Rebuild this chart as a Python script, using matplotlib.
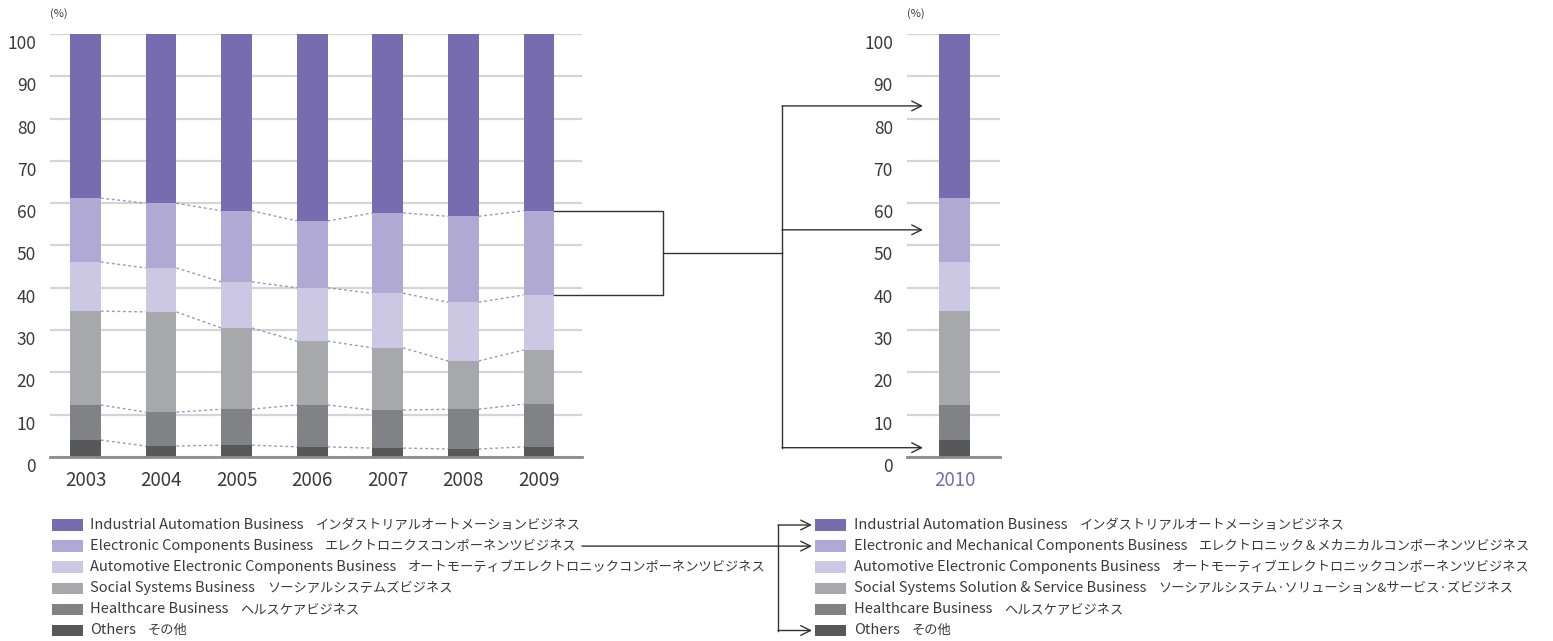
import matplotlib
matplotlib.use('Agg')
import matplotlib.pyplot as plt
import matplotlib.transforms as mtransforms
import numpy as np

# ---- data (shares in %, bottom -> top) ----
years = ['2003', '2004', '2005', '2006', '2007', '2008', '2009']
others = [4.0, 2.6, 2.8, 2.4, 2.1, 1.9, 2.4]
healthcare = [8.3, 8.0, 8.5, 9.9, 9.0, 9.4, 10.1]
social = [22.2, 23.7, 19.2, 15.1, 14.7, 11.4, 12.8]
automotive = [11.6, 10.4, 10.9, 12.6, 12.9, 13.9, 13.0]
electronic = [15.1, 15.3, 16.8, 15.8, 19.0, 20.3, 19.9]
industrial = [38.8, 40.0, 41.8, 44.2, 42.3, 43.1, 41.8]

year_new = '2010'
shares_new = [4.0, 8.3, 22.2, 11.6, 15.1, 38.8]   # others .. industrial

# arrow targets on the 2010 axis (%)
arrow_targets = [83.0, 53.7, 2.2]

legend_old_en = [
    'Industrial Automation Business',
    'Electronic Components Business',
    'Automotive Electronic Components Business',
    'Social Systems Business',
    'Healthcare Business',
    'Others',
]
legend_old_jp = [
    'インダストリアルオートメーションビジネス',
    'エレクトロニクスコンポーネンツビジネス',
    'オートモーティブエレクトロニックコンポーネンツビジネス',
    'ソーシアルシステムズビジネス',
    'ヘルスケアビジネス',
    'その他',
]
legend_new_en = [
    'Industrial Automation Business',
    'Electronic and Mechanical Components Business',
    'Automotive Electronic Components Business',
    'Social Systems Solution & Service Business',
    'Healthcare Business',
    'Others',
]
legend_new_jp = [
    'インダストリアルオートメーションビジネス',
    'エレクトロニック＆メカニカルコンポーネンツビジネス',
    'オートモーティブエレクトロニックコンポーネンツビジネス',
    'ソーシアルシステム·ソリューション&サービス·ズビジネス',
    'ヘルスケアビジネス',
    'その他',
]

# colours, bottom -> top
colors = ['#58585a', '#818285', '#a7a8ab', '#ccc8e4', '#b0a9d3', '#776caf']
legend_colors = colors[::-1]

FONT = ['Noto Sans CJK JP', 'DejaVu Sans']
TXT = '#3a3a3a'
PURPLE = colors[-1]

W, H = 1553, 641
fig = plt.figure(figsize=(W / 100, H / 100), dpi=100)
fig.patch.set_facecolor('white')

bw = 0.405


def setup_axis(ax, xlim):
    ax.set_xlim(*xlim)
    ax.set_ylim(0, 100)
    ax.set_yticks(range(0, 101, 10))
    ax.set_yticklabels([])
    ax.tick_params(axis='both', length=0)
    ax.grid(axis='y', color='#d5d5d5', lw=1.6)
    ax.set_axisbelow(True)
    for s in ['top', 'right', 'left']:
        ax.spines[s].set_visible(False)
    ax.spines['bottom'].set_color('#8c8c8c')
    ax.spines['bottom'].set_linewidth(2)
    lab_tr = mtransforms.offset_copy(ax.get_yaxis_transform(), fig=fig, x=-14, y=-1, units='dots')
    for v in range(0, 101, 10):
        ax.text(0, v, str(v), transform=lab_tr, ha='right', va='top',
                fontsize=12.5, color=TXT, family=FONT)


bot, top = 457, 34
ax1 = fig.add_axes([50 / W, 1 - bot / H, 532 / W, (bot - top) / H])
ax2 = fig.add_axes([907 / W, 1 - bot / H, 93 / W, (bot - top) / H])
setup_axis(ax1, (-0.47, 6.57))
setup_axis(ax2, (-0.62, 0.595))

# ---- stacked bars 2003-2009 ----
series = [others, healthcare, social, automotive, electronic, industrial]
x = np.arange(len(years))
base = np.zeros(len(years))
levels = []
for vals, c in zip(series, colors):
    ax1.bar(x, vals, width=bw, bottom=base, color=c, zorder=2)
    base = base + np.array(vals)
    levels.append(base.copy())

# dotted connectors between neighbouring bars
for lv in levels[:-1]:
    for i in range(len(years) - 1):
        ax1.plot([x[i] + bw / 2, x[i + 1] - bw / 2], [lv[i], lv[i + 1]],
                 color='#9d95cc', lw=1, ls=(0, (2, 2)), zorder=1)

ax1.set_xticks(x)
ax1.set_xticklabels(years)
ax1.tick_params(axis='x', pad=9)
for lbl in ax1.get_xticklabels():
    lbl.set_fontsize(13.5)
    lbl.set_color(TXT)
    lbl.set_family(FONT)

# ---- 2010 bar ----
b = 0.0
for v, c in zip(shares_new, colors):
    ax2.bar([0], [v], width=bw, bottom=b, color=c, zorder=2)
    b += v
ax2.set_xticks([0])
ax2.set_xticklabels([year_new])
ax2.tick_params(axis='x', pad=9)
for lbl in ax2.get_xticklabels():
    lbl.set_fontsize(13.5)
    lbl.set_color(PURPLE)
    lbl.set_family(FONT)

# ---- overlay in pixel coordinates for brackets and legends ----
ov = fig.add_axes([0, 0, 1, 1], zorder=5)
ov.set_xlim(0, W)
ov.set_ylim(H, 0)
ov.axis('off')
ov.patch.set_alpha(0)


def to_px(ax, xv, yv):
    px, py = ax.transData.transform((xv, yv))
    return px, H - py


LC = '#333333'
arr = dict(arrowstyle='->,head_length=0.7,head_width=0.35', lw=1, color=LC,
           shrinkA=0, shrinkB=0)

ov.text(50, 14, '(%)', fontsize=8, color=TXT, va='center', ha='left', family=FONT)
ov.text(907, 14, '(%)', fontsize=8, color=TXT, va='center', ha='left', family=FONT)

# bracket from 2009 electronic components segment
x_r, y_top = to_px(ax1, x[-1] + bw / 2, levels[4][-1])
_, y_bot = to_px(ax1, x[-1] + bw / 2, levels[3][-1])
x_b, x_v, x_tip = 663, 782, 923
ov.plot([x_r, x_b, x_b, x_r], [y_top, y_top, y_bot, y_bot], color=LC, lw=1)
y_mid = (y_top + y_bot) / 2
ov.plot([x_b, x_v], [y_mid, y_mid], color=LC, lw=1)
ys = [to_px(ax2, 0, t)[1] for t in arrow_targets]
ov.plot([x_v, x_v], [min(ys), max(ys)], color=LC, lw=1)
for yy in ys:
    ov.annotate('', xy=(x_tip, yy), xytext=(x_v, yy), arrowprops=arr)

# ---- legends ----
fig.canvas.draw()
r = fig.canvas.get_renderer()
row0, dy = 525, 21.1
sw_w, sw_h = 31, 11.5


def legend_row(xs, xt, y, c, en, jp):
    ov.add_patch(plt.Rectangle((xs, y - sw_h / 2), sw_w, sw_h, color=c, lw=0))
    t = ov.text(xt, y, en, fontsize=10.5, color=TXT, va='center', ha='left', family=FONT)
    e = t.get_window_extent(r)
    t2 = ov.text(e.x1 + 12, y, jp, fontsize=9.5, color=TXT, va='center', ha='left', family=FONT)
    return t2.get_window_extent(r).x1


ends = []
for i in range(6):
    y = row0 + i * dy
    ends.append(legend_row(52, 90, y, legend_colors[i], legend_old_en[i], legend_old_jp[i]))
    legend_row(815, 854, y, legend_colors[i], legend_new_en[i], legend_new_jp[i])

x_lv, x_ltip = 778, 812
ov.annotate('', xy=(x_ltip, row0 + dy), xytext=(ends[1] + 5, row0 + dy), arrowprops=arr)
ov.plot([x_lv, x_lv], [row0, row0 + 5 * dy], color=LC, lw=1)
for k in [0, 5]:
    ov.annotate('', xy=(x_ltip, row0 + k * dy), xytext=(x_lv, row0 + k * dy), arrowprops=arr)

fig.savefig('out.png', dpi=100, facecolor='white')
